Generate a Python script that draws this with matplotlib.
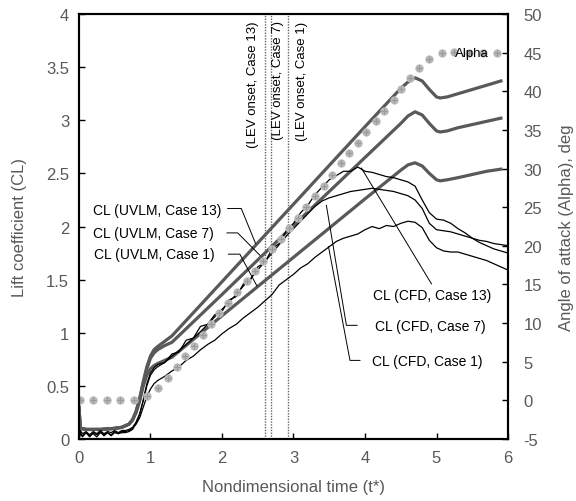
import matplotlib
matplotlib.use("Agg")
import matplotlib.pyplot as plt

plt.rcParams['font.family'] = ['Liberation Sans', 'DejaVu Sans']
plt.rcParams['axes.unicode_minus'] = False

# UVLM lift coefficient (thick grey lines)
t_uvlm = [0, 0.02, 0.1, 0.3, 0.5, 0.6, 0.7, 0.75, 0.8, 0.85, 0.9, 0.95, 1.0, 1.05,
          1.1, 1.2, 1.3, 2.0, 3.0, 4.0, 4.5, 4.6, 4.7, 4.8, 4.9, 5.0, 5.05, 5.15,
          5.3, 5.5, 5.7, 5.9]
cl_uvlm_13 = [0.30, 0.10, 0.09, 0.09, 0.10, 0.11, 0.14, 0.18, 0.26, 0.38, 0.54, 0.68,
              0.78, 0.84, 0.87, 0.92, 0.97, 1.48, 2.21, 2.94, 3.30, 3.36, 3.40, 3.37,
              3.29, 3.22, 3.21, 3.22, 3.25, 3.29, 3.33, 3.37]
cl_uvlm_7 = [0.30, 0.10, 0.09, 0.09, 0.10, 0.11, 0.14, 0.18, 0.26, 0.38, 0.53, 0.66,
             0.76, 0.81, 0.84, 0.88, 0.91, 1.36, 2.01, 2.65, 2.97, 3.04, 3.08, 3.05,
             2.97, 2.90, 2.89, 2.90, 2.93, 2.96, 2.99, 3.02]
cl_uvlm_1 = [0.30, 0.10, 0.09, 0.09, 0.10, 0.11, 0.14, 0.18, 0.25, 0.36, 0.50, 0.60,
             0.66, 0.69, 0.71, 0.74, 0.77, 1.16, 1.71, 2.26, 2.53, 2.58, 2.60, 2.57,
             2.50, 2.44, 2.43, 2.44, 2.46, 2.49, 2.52, 2.54]

# CFD lift coefficient (thin black lines)
t_cfd = [0, 0.02, 0.05, 0.1, 0.15, 0.2, 0.25, 0.3, 0.35, 0.4, 0.45, 0.5, 0.55, 0.6,
         0.65, 0.7, 0.75, 0.8, 0.85, 0.9, 0.95, 1.0, 1.05,
         1.1, 1.2, 1.3, 1.4, 1.5, 1.6, 1.7, 1.8, 1.9, 2.0, 2.1, 2.2, 2.3, 2.4, 2.5,
         2.6, 2.7, 2.8, 2.9, 3.0, 3.1, 3.2, 3.3, 3.4, 3.5, 3.6, 3.7, 3.8, 3.9, 4.0,
         4.1, 4.2, 4.3, 4.4, 4.5, 4.6, 4.7, 4.8, 4.9, 5.0, 5.1, 5.2, 5.3, 5.4, 5.5,
         5.6, 5.7, 5.8, 5.9, 6.0]
cl_cfd_13 = [0.0, 0.05, 0.02, 0.06, 0.03, 0.05, 0.02, 0.06, 0.04, 0.06, 0.03, 0.06, 0.05, 0.06,
             0.06, 0.07, 0.09, 0.15, 0.23, 0.37, 0.52, 0.62, 0.67,
             0.70, 0.72, 0.80, 0.82, 0.93, 0.95, 1.06, 1.08, 1.17, 1.20, 1.31, 1.34, 1.46,
             1.50, 1.62, 1.66, 1.79, 1.84, 1.96, 2.03, 2.13, 2.20, 2.30, 2.37, 2.44, 2.48,
             2.52, 2.52, 2.56, 2.52, 2.51, 2.49, 2.47, 2.46, 2.44, 2.42, 2.38, 2.25, 2.13,
             2.07, 2.06, 2.03, 1.98, 1.94, 1.89, 1.85, 1.82, 1.79, 1.77, 1.75]
cl_cfd_7 = [0.0, 0.08, 0.05, 0.07, 0.04, 0.07, 0.05, 0.08, 0.05, 0.07, 0.06, 0.08, 0.06, 0.08,
            0.08, 0.09, 0.11, 0.16, 0.24, 0.36, 0.50, 0.60, 0.65,
            0.68, 0.72, 0.78, 0.83, 0.89, 0.95, 1.01, 1.08, 1.15, 1.22, 1.29, 1.36, 1.44,
            1.51, 1.59, 1.67, 1.75, 1.83, 1.91, 1.98, 2.05, 2.12, 2.19, 2.24, 2.27, 2.29,
            2.31, 2.33, 2.34, 2.35, 2.36, 2.35, 2.34, 2.33, 2.31, 2.29, 2.25, 2.17, 2.03,
            1.97, 1.96, 1.95, 1.93, 1.91, 1.89, 1.87, 1.86, 1.84, 1.83, 1.82]
cl_cfd_1 = [0.0, 0.06, 0.03, 0.06, 0.02, 0.06, 0.04, 0.07, 0.03, 0.06, 0.04, 0.07, 0.05, 0.07,
            0.07, 0.08, 0.10, 0.14, 0.20, 0.30, 0.40, 0.47, 0.52,
            0.55, 0.59, 0.64, 0.68, 0.74, 0.78, 0.84, 0.89, 0.93, 0.99, 1.04, 1.08, 1.14,
            1.19, 1.24, 1.30, 1.36, 1.45, 1.50, 1.55, 1.61, 1.65, 1.71, 1.76, 1.81, 1.86,
            1.89, 1.91, 1.93, 1.97, 2.00, 1.98, 2.01, 2.00, 2.03, 2.05, 2.04, 1.99, 1.87,
            1.80, 1.77, 1.76, 1.76, 1.74, 1.72, 1.70, 1.68, 1.65, 1.62, 1.59]

# angle of attack (deg), right axis
t_alpha = [0.01, 0.2, 0.39, 0.58, 0.77, 0.955, 1.11, 1.24, 1.37, 1.49, 1.61, 1.73, 1.85,
           1.96, 2.09, 2.21, 2.35, 2.46, 2.58, 2.70, 2.83, 2.94, 3.06, 3.18, 3.30, 3.42,
           3.54, 3.66, 3.78, 3.90, 4.02, 4.15, 4.27, 4.40, 4.51, 4.63, 4.76, 4.90, 5.07,
           5.24, 5.45, 5.65, 5.84]
alpha = [0, 0, 0, 0, 0, 0.6, 1.6, 2.9, 4.3, 5.7, 7.0, 8.4, 9.9, 11.3, 12.6, 14.0, 15.4,
         16.7, 18.0, 19.6, 20.9, 22.3, 23.6, 25.0, 26.4, 27.8, 29.2, 30.7, 32.0, 33.3,
         34.7, 36.1, 37.5, 38.9, 40.3, 41.7, 43.0, 44.2, 44.9, 45.1, 45.0, 45.0, 45.0]

# LEV onset times
lev_names = ['(LEV onset, Case 13)', '(LEV onset, Case 7)', '(LEV onset, Case 1)']
lev_t = [2.60, 2.69, 2.92]

grey = '#595959'
fig = plt.figure(figsize=(5.76, 5.02), dpi=100)
ax = fig.add_axes([0.137, 0.1235, 0.745, 0.8465])
ax2 = ax.twinx()

ax.plot(t_uvlm, cl_uvlm_13, color=grey, lw=2.3, zorder=2)
ax.plot(t_uvlm, cl_uvlm_7, color=grey, lw=2.3, zorder=2)
ax.plot(t_uvlm, cl_uvlm_1, color=grey, lw=2.3, zorder=2)
ax.plot(t_cfd, cl_cfd_13, color='black', lw=0.9, zorder=3)
ax.plot(t_cfd, cl_cfd_7, color='black', lw=0.9, zorder=3)
ax.plot(t_cfd, cl_cfd_1, color='black', lw=0.9, zorder=3)

for tt in lev_t:
    ax.axvline(tt, color='#666666', lw=1.0, ls=(0, (1, 1)), zorder=1)
lev_text_x = [2.43, 2.78, 3.12]
for name, xx in zip(lev_names, lev_text_x):
    ax.text(xx, 3.94, name, rotation=90, ha='center', va='top', fontsize=9.5)

ax2.plot(t_alpha, alpha, ls='none', marker='o', ms=6, color='#b8b8b8', mec='none')
ax2.plot(t_alpha, alpha, ls='none', marker='+', ms=5, color='#999999', mew=0.8)
ax2.text(5.49, 44.9, 'Alpha', fontsize=9.5, ha='center', va='center')

# leader lines and labels
lab = dict(fontsize=10, va='center')
ax.plot([2.08, 2.27, 2.47], [2.17, 2.17, 1.84], color='black', lw=0.7)
ax.text(1.10, 2.16, 'CL (UVLM, Case 13)', ha='center', **lab)
ax.plot([2.07, 2.22, 2.53], [1.94, 1.94, 1.73], color='black', lw=0.7)
ax.text(1.04, 1.94, 'CL (UVLM, Case 7)', ha='center', **lab)
ax.plot([2.09, 2.25, 2.49], [1.74, 1.74, 1.44], color='black', lw=0.7)
ax.text(1.06, 1.74, 'CL (UVLM, Case 1)', ha='center', **lab)

ax.plot([3.95, 4.93], [2.55, 1.46], color='black', lw=0.7)
ax.text(4.94, 1.36, 'CL (CFD, Case 13)', ha='center', **lab)
ax.plot([3.46, 3.74, 3.89], [2.20, 1.07, 1.07], color='black', lw=0.7)
ax.text(4.91, 1.065, 'CL (CFD, Case 7)', ha='center', **lab)
ax.plot([3.49, 3.79, 3.93], [1.81, 0.74, 0.74], color='black', lw=0.7)
ax.text(4.87, 0.73, 'CL (CFD, Case 1)', ha='center', **lab)

ax.set_xlim(0, 6)
ax.set_ylim(0, 4)
ax2.set_ylim(-5, 50)
ax.set_xticks(range(0, 7))
ax.set_yticks([0, 0.5, 1, 1.5, 2, 2.5, 3, 3.5, 4])
ax.set_yticklabels(['0', '0.5', '1', '1.5', '2', '2.5', '3', '3.5', '4'])
ax2.set_yticks(range(-5, 51, 5))

for a in (ax, ax2):
    for s in a.spines.values():
        s.set_linewidth(1.5)
ax.tick_params(axis='both', direction='in', length=4, width=1, labelsize=12,
               labelcolor=grey)
ax.tick_params(axis='x', pad=8)
ax.tick_params(axis='y', pad=7)
ax2.tick_params(axis='y', direction='in', length=4, width=1, labelsize=12,
                labelcolor=grey, pad=11)

ax.set_xlabel('Nondimensional time (t*)', fontsize=12, color=grey)
ax.set_ylabel('Lift coefficient (CL)', fontsize=12, color=grey)
ax2.set_ylabel('Angle of attack (Alpha), deg', fontsize=12, color=grey)
ax.xaxis.set_label_coords(0.5, -0.094)
ax.yaxis.set_label_coords(-0.12, 0.5)
ax2.yaxis.set_label_coords(1.118, 0.5)

fig.savefig('out.png', dpi=100)
